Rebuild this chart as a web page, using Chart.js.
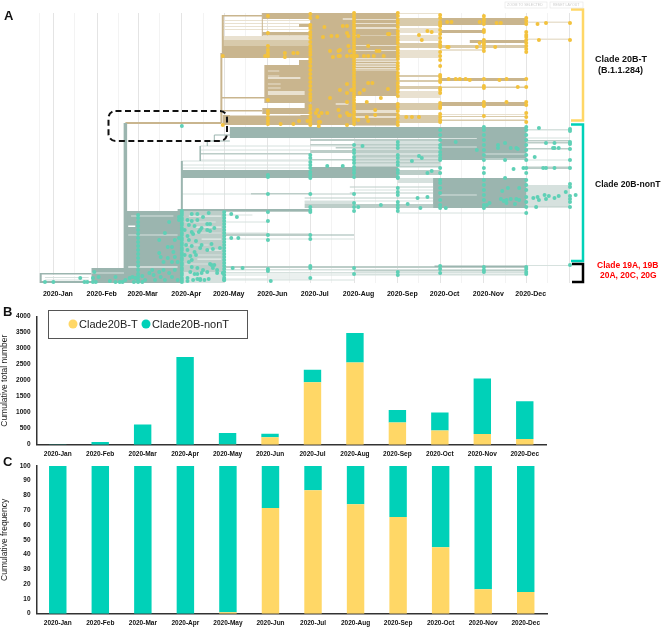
<!DOCTYPE html>
<html><head><meta charset="utf-8">
<style>
html,body{margin:0;padding:0;background:#fff;width:668px;height:631px;overflow:hidden;font-family:"Liberation Sans",Arial,sans-serif}
.box{position:absolute;left:0;width:668px}
.t{position:absolute;white-space:nowrap;font-weight:bold;color:#111}
svg{position:absolute;left:0;top:0}
canvas{display:block}
#tree{filter:blur(0.35px)}
</style>
<script src="https://cdn.jsdelivr.net/npm/chart.js@4"></script>
</head><body>
<div class="box" style="top:0;height:300px"><canvas id="tree" width="668" height="300" style="width:668px;height:300px"></canvas></div>
<div class="box" style="top:306px;height:157px"><canvas id="totals" width="668" height="157" style="width:668px;height:157px"></canvas></div>
<div class="box" style="top:456px;height:175px"><canvas id="freq" width="668" height="175" style="width:668px;height:175px"></canvas></div>
<svg width="668" height="631" fill="none">
<rect x="108.5" y="111" width="118.5" height="30" rx="7" stroke="#111" stroke-width="2" stroke-dasharray="6 3.5"/>
<path d="M571 9.5H583V120.5H571" stroke="#FFD766" stroke-width="2.5"/>
<path d="M571 124.5H583V261H571" stroke="#00D1B8" stroke-width="2.5"/>
<path d="M572 264H583V282H572" stroke="#000" stroke-width="2.5"/>
<rect x="48.5" y="310.5" width="199" height="28" stroke="#555" stroke-width="1"/>
<circle cx="73" cy="324" r="4.5" fill="#FFD766"/><circle cx="146" cy="324" r="4.5" fill="#00D1B8"/>
<rect x="505" y="2" width="42" height="6" stroke="#e4e4e4" stroke-width=".6"/><rect x="550" y="2" width="33" height="6" stroke="#e4e4e4" stroke-width=".6"/>
</svg>
<div class="t" style="left:4px;top:8px;font-size:13px">A</div>
<div class="t" style="left:3px;top:304px;font-size:13px">B</div>
<div class="t" style="left:3px;top:454px;font-size:13px">C</div>
<div class="t" style="left:507px;top:3px;font-size:3.5px;font-weight:normal;color:#ccc">ZOOM TO SELECTED</div>
<div class="t" style="left:553px;top:3px;font-size:3.5px;font-weight:normal;color:#ccc">RESET LAYOUT</div>
<div class="t" style="left:595px;top:54px;font-size:9px">Clade 20B-T</div>
<div class="t" style="left:598px;top:65px;font-size:9px">(B.1.1.284)</div>
<div class="t" style="left:595px;top:179px;font-size:8.6px">Clade 20B-nonT</div>
<div class="t" style="left:597px;top:260px;font-size:8.5px;color:#f00">Clade 19A, 19B</div>
<div class="t" style="left:600px;top:270px;font-size:8.5px;color:#f00">20A, 20C, 20G</div>
<div class="t" style="left:79px;top:317.5px;font-size:11px;font-weight:normal;color:#222">Clade20B-T</div>
<div class="t" style="left:152px;top:317.5px;font-size:11px;font-weight:normal;color:#222">Clade20B-nonT</div>
<script>
// ---------- bar charts ----------
const months = ['2020-Jan','2020-Feb','2020-Mar','2020-Apr','2020-May','2020-Jun','2020-Jul','2020-Aug','2020-Sep','2020-Oct','2020-Nov','2020-Dec'];
const totalT    = [0,0,0,0,3,230,1950,2570,690,440,335,175];
const totalNonT = [3,83,635,2740,362,115,395,920,395,570,1735,1180];
const freqT     = [0,0,0,0,1,71.5,83.5,74,65.5,45,16.5,14.7];
const freqNonT  = [100,100,100,100,99,28.5,16.5,26,34.5,55,83.5,85.3];
const totalTicks = [0,500,1000,1500,2000,2500,3000,3500,4000];
const freqTicks  = [0,10,20,30,40,50,60,70,80,90,100];

// ---------- tree: time axis (days since 2020-01-01) ----------
const monthStartDay = [0,31,60,91,121,152,182,213,244,274,305,335,366];
const monthMidDay   = [-10,15,46,75,106,136,167,197,228,259,289,320,350];

// bands: [startDay, endDay, lowTipRank, highTipRank]
const tanLight = [
 [120,182,253,254],[120,182,256,257],[120,182,259,260],[120,182,262,263],
 [120,182,243,247],[213,244,187,225],[213,244,158,180],[213,244,225,270],
 [244,274,269,270],[244,274,250,255],[244,274,242,248],[244,274,225,233],[244,274,185,192],
 [274,305,232,234],[274,335,168,169],[335,366,260,261.5],[335,366,243,244.5]
];
const tanMid = [
 [120,182,237,243],
 [244,274,257,265],[244,274,235,240],[244,274,206,208],[244,274,201,203],[244,274,194,197],[244,274,173,180],[244,274,160,168],
 [274,335,235,238],[274,335,195,196.5],[274,335,166,167],[274,335,162,163.5]
];
const tanDark = [
 [148,244,264,270],[120,148,266.5,268],[174,244,256,259],[148,244,247.5,251],[120,213,225,237],
 [182,213,158,270],
 [213,244,260,263],[213,244,249,254],[213,244,238,247],[213,244,233,237],[213,244,225,232],
 [213,244,222.5,223.5],[213,244,220,221],[213,244,217.5,218.5],[213,244,215,216],[213,244,212.5,213.5],
 [213,244,187,212],[213,244,173,180],[213,244,167,170],[213,244,157.5,165],
 [150,182,180,218],[174,182,218,223],[119,150,184.5,186],
 [148,213,169,175],[120,148,171.5,173],[120,213,158,168],[178,182,175,180],
 [274,335,258,265],[274,305,250,253],[295,335,240,243],[274,335,202,205],[274,335,177,181],
 [51,119,159,161]
];
const tanStripes = [[152,160,211.5,212.5],[152,160,206.5,207.5],[152,161,198.5,199.5],[152,161,194.5,195.5],
 [152,175,204,206],[152,178,188,192]];

const tealLight = [
 [104,244,136.5,137.5],[104,182,132.5,133.5],[104,182,122.5,123.5],[91,182,121.5,122.5],[91,182,117.5,118.5],[91,182,114.5,115.5],
 [91,152,88.5,89.5],[213,269,92.5,93.5],[178,269,81.5,82.5],[178,213,79,82],
 [244,335,69.5,70.5],
 [121,213,43.5,44.5],[121,152,49.5,50.5],[121,152,60.5,61.5],[121,141,67.5,68.5],
 [91,335,12.5,14],[91,335,9.5,11],[91,213,7.5,8.5],[121,182,3.5,4.5],[121,213,2.5,3.5],[152,182,5.5,6.5],[213,335,7.5,9],
 [335,366,17,18],
 [335,366,152.5,154],[335,366,144.5,145.5],[335,366,122.5,123.5],[335,366,76,98],
 [91,121,0,10],[213,274,117,144],[244,274,100,105]
];
const tealMid = [
 [91,121,11,72],
 [182,274,142,144],[182,274,137.5,139],[200,274,134.5,136],[182,274,130,133],[213,274,125.5,128],[182,274,122.5,124],[213,274,119.5,121],[213,274,115.5,117],
 [104,182,128.5,130],[140,182,88.5,90],[182,213,88.5,89.5],
 [210,269,95.5,96.5],[210,269,89.5,90.5],[178,269,84.5,85.5],[178,269,75,79],
 [91,182,71,72],[121,182,47,49.5],
 [91,335,15,17],[213,335,11.5,13],
 [335,366,141.5,143],[335,366,139.5,141],[335,366,133.5,135],[335,366,114,116.5],[335,366,75.5,76.5],
 [244,274,108,113]
];
const tealDark = [
 [125,335,145,156],[274,335,123,145],
 [91,244,105,113],[182,244,113,116],[269,335,75,105],
 [51,91,15,72],[27,91,0,15],[-9,27,8.5,10],[-9,27,0,2],
 [88,182,72,74],[182,213,47.5,48.5],[270,335,16,17.5],
 [114,125,147.5,148.5],[109,125,141.5,142.5]
];
const tealStripes = [
 [274,300,144,145],[274,300,135.5,136.5],[305,335,128.5,129.5],[305,335,123.5,124.5],[274,300,87.5,88.5],
 [55,85,66.5,67.5],[53,88,47.5,48.5],[27,50,9.5,10.5],[-6,25,5,6],[-6,25,2.5,3.5],
 [93,115,60.5,61.5],[98,119,49.5,50.5],[93,110,37.5,38.5],[100,119,27.5,28.5],[93,112,18.5,19.5]
];
const whiteGaps = [
 [96,119,66.5,67.3],[100,119,55.5,56.3],[105,119,43.5,44.3],[108,119,32.5,33.3],[102,119,23.5,24.3],
 [53,88,15.5,16.5],[53,58,56,57.5],[-7,25,7,8],[205,213,263.5,264.5],[200,209,178.5,179.5],[125,175,167.5,168.5]
];
// stems: [day, lowTipRank, highTipRank, width]
const tanStems = [[119,160,230,2],[120,225,268,2],[150,180,218,1.5],[148,247,270,1]];
const tealStems = [[51,15,160,3.5],[91,72,122,2],[104,122,137,1.5],[109,137,142,1],[114,142,148,1],[-9,0,10,2]];

// tips: ranks per monthly sampling column
const tipsT = {
 152:[267,250,237,233,230,227,183,172,169,165,162,159],
 182:[269,265,258,255,251,248,245,241,237,234,231,228,224,221,217,213,209,205,201,197,193,189,186,183,177,174,170,166,163,160,158],
 213:[270,267,264,261,258,255,252,249,246,243,240,237,234,231,228,225,222,219,216,213,210,207,204,201,198,195,192,189,186,183,180,177,174,171,168,165,162,159],
 244:[270,267,263,260,256,252,249,246,243,240,236,233,230,227,224,220,217,214,210,207,204,200,197,194,191,187,179,176,172,168,165,161,158],
 274:[268,265,261,259,257,253,249,245,241,238,236,231,227,223,217,208,206,203,201,195,193,190,180,177,175,169,166,163,161],
 305:[267,264,262,259,253,251,243,240,238,235,232,204,197,195,181,178,177,167],
 335:[265,262,259,251,248,246,243,240,237,234,231,204,196,181,178,170,166,161],
 366:[260,243]
};
const tipsNonT = {
 60:[68,65,61,57,53,49,45,41,37,33,29,25,21,17,13,9,6,3,1],
 91:[72,70,68,65,63,60,58,55,53,50,48,45,43,40,38,35,33,30,28,25,23,20,18,15,13,10,8,5,3,1],
 121:[71,68,65,62,59,56,53,50,47,44,41,38,35,32,29,26,23,20,17,14,11,8,5,3],
 152:[108,106,89,71,62,48,43,14,12],
 182:[128,125,121,118,115,111,108,105,89,76,73,71,48,44,17,15,5],
 213:[138,133,130,126,123,120,116,113,110,106,89,80,76,72,15,9],
 244:[141,138,135,128,125,121,118,113,110,106,105,95,91,88,81,78,75,72,11,8],
 274:[153,148,143,138,135,131,128,125,123,115,110,103,100,95,90,83,78,75,17,14,10],
 305:[156,153,148,143,138,133,128,123,115,110,103,98,93,88,83,78,75,16,13,11],
 335:[156,153,148,143,138,133,128,123,115,110,103,98,93,86,81,76,70,16,14,11,9],
 366:[154,152,141,139,134,123,115,99,96,87,84,81,76,18]
};
// off-column tips: [day, rank]
const looseT = [
 [120,227],[150,227],[164,230],[164,226],[170,230],[173,230],[187,266],[192,256],[191,246],[197,247],[201,247],[196,232],[198,226],[202,232],[202,227],[196,185],[186,170],[187,173],[190,170],[188,167],[194,170],[202,173],[161,159],[170,159],[174,162],[180,162],[188,161],[189,161],[188,157],[120,158],
 [205,257],[208,257],[208,250],[209,247],[203,233],[209,237],[210,232],[203,227],[208,227],[211,227],[208,199],[211,193],[208,190],[203,193],[208,181],[208,170],[209,168],[203,167],[210,168],[208,158],
 [216,247],[238,249],[237,249],[223,237],[229,232],[231,232],[215,227],[220,227],[223,227],[227,227],[234,227],[223,200],[226,200],[237,194],[220,193],[217,190],[232,185],[222,181],[228,173],[228,168],[222,166],[216,163],[223,162],
 [259,248],[265,252],[268,251],[261,243],[250,166],[254,166],[259,166],[279,236],[280,236],[279,261],[282,261],[280,204],[285,204],[288,204],
 [302,261],[314,260],[317,260],[302,240],[300,236],[313,236],[292,204],[295,203],[316,203],[321,204],[329,196],[321,181],[343,259],[349,260],[344,243]
];
const looseNonT = [
 [91,157],
 [344,155],[349,140],[355,140],[354,135],[355,135],[358,135],[341,126],[347,115],[349,115],[355,115],[340,85],[343,86],[344,83],[348,88],[349,84],[351,87],[355,85],[358,87],[363,91],[370,88],[342,76],
 [285,141],[300,133],[315,138],[315,135],[320,140],[324,135],[328,135],[329,134],[320,123],[326,114],[333,115],[320,105],[322,95],[318,92],[330,95],[317,84],[319,82],[321,83],[321,80],[324,84],[327,79],[328,84],[330,83],[307,78],[309,80],[259,127],[261,125],[254,122],[265,110],[268,112],[258,85],[265,86],[251,79],[260,75],[278,75],
 [194,117],[205,117],[219,137],[232,78],[216,76],[126,69],[130,66],[126,45],[131,45],[127,15],[134,15],[154,2],
 [98,69],[102,69],[106,66],[110,70],[95,63],[98,62],[102,63],[96,58],[100,57],[105,55],[109,59],[93,53],[98,51],[104,53],[111,59],[114,55],[95,47],[99,49],[103,51],[109,53],[111,52],[96,43],[101,42],[94,38],[98,37],[105,38],[112,39],[113,34],[118,35],[95,33],[100,31],[104,35],[109,33],[93,28],[97,27],[101,28],[98,23],[96,21],[114,18],[111,19],[98,16],[102,15],[106,13],[116,13],[97,11],[102,9],[105,10],[109,11],[95,5],[99,3],[102,4],[104,4],[110,4],
 [82,61],[75,43],[79,50],[81,36],[84,36],[75,30],[76,26],[78,21],[81,25],[85,31],[86,26],[84,21],[88,21],[89,66],[89,63],[86,43],[89,45],
 [19,5],[-6,1],[0,1],[22,1],[24,1],[28,1],[30,1],[32,6],[29,11],[28,5],[40,2],[44,6],[44,1],[47,1],[49,1],[51,3],[54,5],[56,6],[58,5],[63,7],[65,3],[68,10],[70,13],[71,8],[72,3],[75,11],[76,6],[78,13],[79,3],[82,10],[84,6],[86,13],[88,3],[63,1],[57,1],
 [100,9],[112,18],[113,15],[120,10],[121,3],[104,3],[107,3],[116,10],[95,2]
];

// ---------- styles ----------
const YEL='#FFD766', TEAL='#00D1B8', AXIS='#333';
const FONT='"Liberation Sans",Arial,sans-serif';
const c = {tanL:'#e9e1d0',tanM:'#d8caab',tanD:'#c9b58e',tealL:'#d6e1de',tealM:'#bccdc8',tealD:'#9bb5af',dotT:'#f3c23d',dotN:'#5fd0b6'};

const layers = [];
const addBands=(list,color)=>list.forEach(b=>{const mid=(b[2]+b[3])/2;layers.push({type:'line',data:[{x:b[0],y:mid},{x:b[1],y:mid}],borderColor:color,borderWidth:Math.max(b[3]-b[2],0.8),pointRadius:0,borderCapStyle:'butt',tension:0});});
const addStems=(list,color)=>list.forEach(s=>{layers.push({type:'line',data:[{x:s[0],y:s[1]},{x:s[0],y:s[2]}],borderColor:color,borderWidth:s[3],pointRadius:0,borderCapStyle:'butt'});});
addBands(tealLight,c.tealL);addBands(tealMid,c.tealM);addBands(tealDark,c.tealD);addBands(tealStripes,c.tealL);
addBands(tanLight,c.tanL);addBands(tanMid,c.tanM);addBands(tanDark,c.tanD);addBands(tanStripes,c.tanL);
addBands(whiteGaps,'#ffffff');
addStems(tealStems,c.tealD);addStems(tanStems,c.tanD);
const flat=(cols,loose)=>Object.keys(cols).flatMap(d=>cols[d].map(r=>({x:+d,y:r}))).concat(loose.map(p=>({x:p[0],y:p[1]})));
layers.push({type:'scatter',data:flat(tipsNonT,looseNonT),backgroundColor:c.dotN,borderWidth:0,pointRadius:2,showLine:false,clip:false});
layers.push({type:'scatter',data:flat(tipsT,looseT),backgroundColor:c.dotT,borderWidth:0,pointRadius:2,showLine:false,clip:false});
layers.forEach((l,i)=>{l.order=layers.length-i;});

new Chart(document.getElementById('tree'),{
 type:'line',data:{datasets:layers},
 options:{responsive:false,animation:false,events:[],parsing:false,
  layout:{padding:{top:13,left:0,right:0,bottom:0}},
  plugins:{legend:{display:false},tooltip:{enabled:false}},
  scales:{
   x:{type:'linear',min:-35,max:432.6,
    afterFit:s=>{s.height=17;},
    afterBuildTicks:s=>{s.ticks=monthStartDay.concat(monthMidDay).map(v=>({value:v}));},
    grid:{drawTicks:false,color:t=>monthStartDay.includes(t.tick&&t.tick.value)?'#e4e4e4':'#f3f3f3',lineWidth:1},
    border:{display:false},
    ticks:{autoSkip:false,maxRotation:0,padding:6.5,labelOffset:4.5,color:'#111',font:{family:FONT,size:7,weight:'bold'},
     callback:v=>{const i=monthStartDay.indexOf(v);return i>=0&&i<12?months[i]:'';}}
   },
   y:{type:'linear',min:0,max:270,display:false}
  }
 }
});

function barChart(id,t,n,yMax,ticksList,title,padTop,xH,rightPad){
 return new Chart(document.getElementById(id),{
  type:'bar',
  data:{labels:months,datasets:[
   {label:'Clade20B-T',data:t,backgroundColor:YEL,borderWidth:0},
   {label:'Clade20B-nonT',data:n,backgroundColor:TEAL,borderWidth:0}]},
  options:{responsive:false,animation:false,events:[],
   layout:{padding:{top:padTop,right:rightPad,left:0,bottom:0}},
   plugins:{legend:{display:false},tooltip:{enabled:false}},
   datasets:{bar:{barPercentage:0.41,categoryPercentage:1}},
   scales:{
    x:{stacked:true,afterFit:s=>{s.height=xH;},
     grid:{display:false,drawTicks:false},border:{color:AXIS,width:1.5},
     ticks:{autoSkip:false,maxRotation:0,padding:6,color:'#111',font:{family:FONT,size:6.5,weight:'bold'}}},
    y:{stacked:true,min:0,max:yMax,afterFit:s=>{s.width=36.5;},
     afterBuildTicks:s=>{s.ticks=ticksList.map(v=>({value:v}));},
     grid:{display:false,drawTicks:false},border:{color:AXIS,width:1.5},
     ticks:{padding:6,color:'#111',font:{family:FONT,size:6.5,weight:'bold'},callback:v=>String(v)},
     title:{display:true,text:title,color:'#222',font:{family:FONT,size:8.5},padding:{top:0,bottom:0}}}
   }
  }
 });
}
barChart('totals',totalT,totalNonT,4000,totalTicks,'Cumulative total number',10.7,18.3,122);
barChart('freq',freqT,freqNonT,100,freqTicks,'Cumulative frequency',8.7,17.3,121);
</script>
</body></html>
